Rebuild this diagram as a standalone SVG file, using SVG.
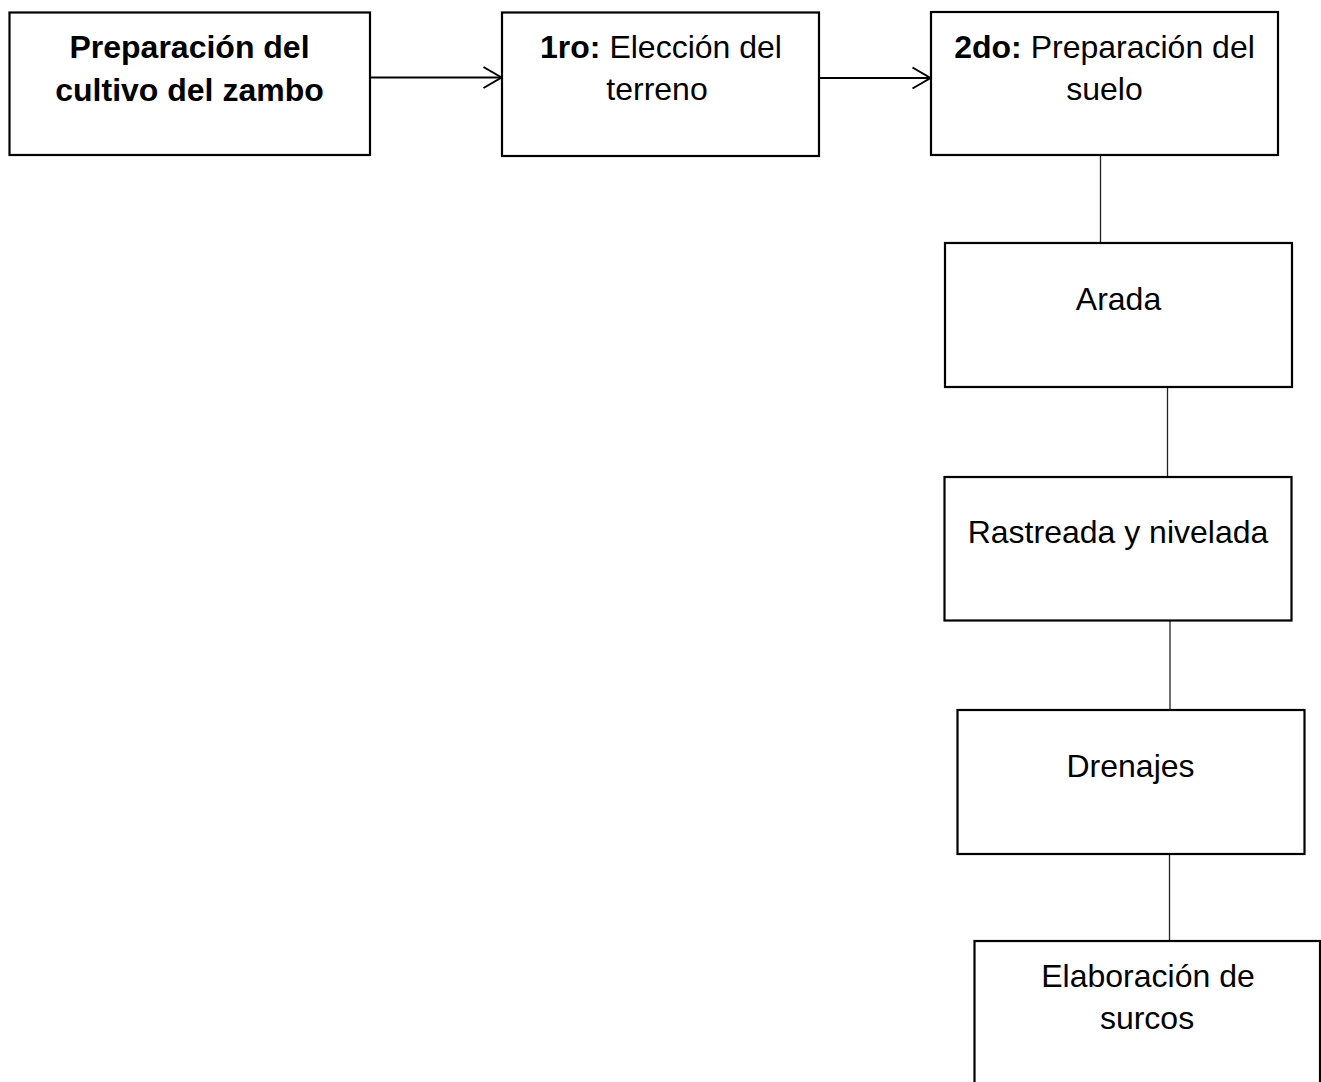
<svg xmlns="http://www.w3.org/2000/svg" width="1321" height="1082" viewBox="0 0 1321 1082">
<style>
.box{fill:#fff;stroke:#000;stroke-width:2.2}
.t{font-family:"Liberation Sans",Arial,sans-serif;font-size:32px;fill:#000;text-anchor:middle}
.b{font-weight:bold}
.c{stroke:#000;stroke-width:2;fill:none}
.v{stroke:#222;stroke-width:1.3;fill:none}
</style>
<rect width="1321" height="1082" fill="#fff"/>
<g id="connectors">
<line class="c" x1="370" y1="77.5" x2="501" y2="77.5"/>
<polyline class="c" points="483.5,67 501.5,77.5 483.5,88"/>
<line class="c" x1="819" y1="78" x2="930" y2="78"/>
<polyline class="c" points="912.5,67.5 930.5,78 912.5,88.5"/>
<line class="v" x1="1100.5" y1="155" x2="1100.5" y2="243"/>
<line class="v" x1="1167.5" y1="387" x2="1167.5" y2="477"/>
<line class="v" x1="1170" y1="620" x2="1170" y2="710"/>
<line class="v" x1="1169.5" y1="854" x2="1169.5" y2="941"/>
</g>
<g id="n1">
<rect class="box" x="9.5" y="12.5" width="360.5" height="142.5"/>
<text class="t b" x="189.5" y="58.3">Preparación del</text>
<text class="t b" x="189.5" y="100.5">cultivo del zambo</text>
</g>
<g id="n2">
<rect class="box" x="502" y="12.5" width="317" height="143.5"/>
<text class="t" x="661" y="58.3"><tspan class="b">1ro:</tspan> Elección del</text>
<text class="t" x="657" y="100.3">terreno</text>
</g>
<g id="n3">
<rect class="box" x="931" y="12" width="347" height="143"/>
<text class="t" x="1104.5" y="58.3"><tspan class="b">2do:</tspan> Preparación del</text>
<text class="t" x="1104.5" y="100.3">suelo</text>
</g>
<g id="n4">
<rect class="box" x="945" y="243" width="347" height="144"/>
<text class="t" x="1118.5" y="310">Arada</text>
</g>
<g id="n5">
<rect class="box" x="944.5" y="477" width="347" height="143.5"/>
<text class="t" x="1118" y="542.7">Rastreada y nivelada</text>
</g>
<g id="n6">
<rect class="box" x="957.5" y="710" width="347" height="144"/>
<text class="t" x="1130.5" y="777">Drenajes</text>
</g>
<g id="n7">
<rect class="box" x="974.5" y="941" width="345.5" height="160"/>
<text class="t" x="1148" y="986.7">Elaboración de</text>
<text class="t" x="1147" y="1029">surcos</text>
</g>
</svg>
